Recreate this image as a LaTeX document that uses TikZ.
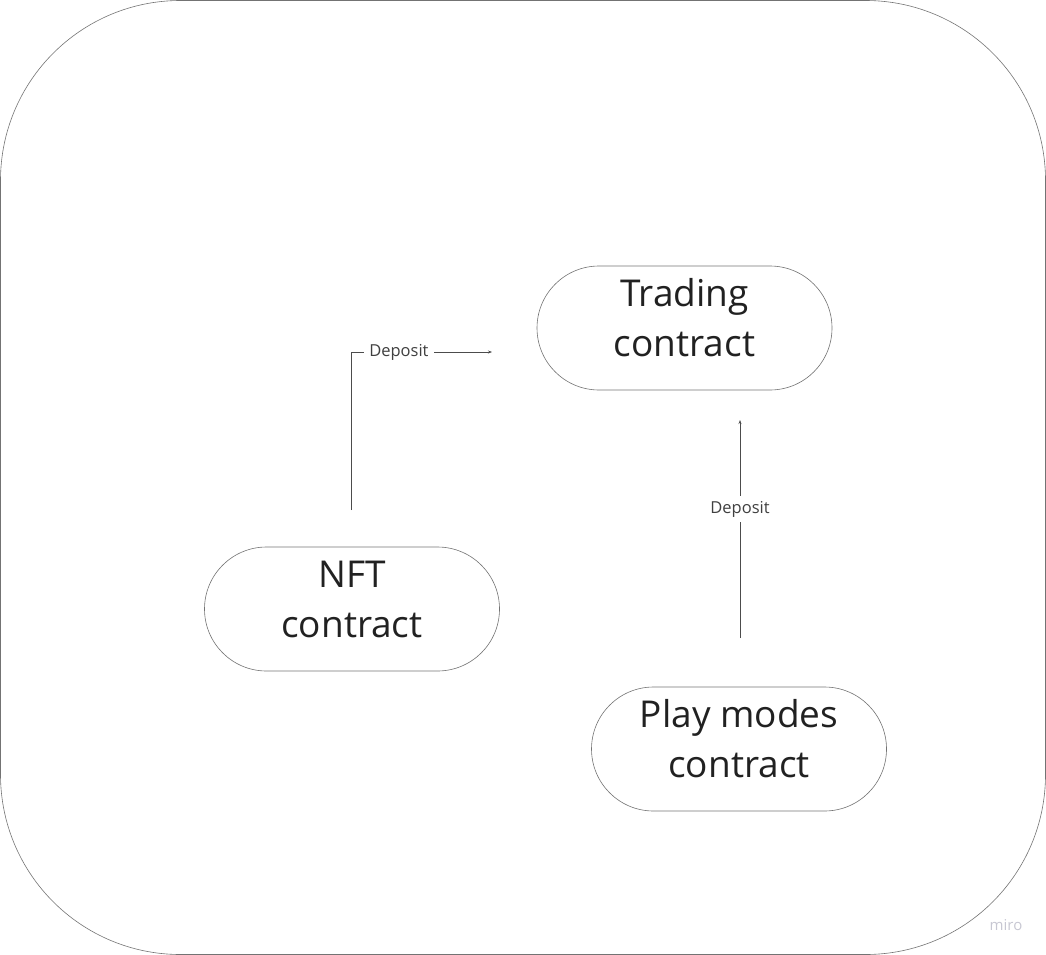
\documentclass[tikz,border=0pt]{standalone}
\usepackage{fontspec}
\setmainfont{Open Sans}
\usetikzlibrary{arrows.meta}
\begin{document}
\begin{tikzpicture}[x=1pt,y=-1pt,
  stadium/.style={draw=black!55, line width=0.6pt, rounded corners=62pt, minimum width=295pt, minimum height=124pt, inner sep=0pt},
  stxt/.style={align=center, font=\fontsize{37}{50}\selectfont, text=black!87, inner sep=0pt, yshift=10pt},
  conn/.style={draw=black!70, line width=0.6pt, -{Stealth[length=4pt,width=3pt]}},
  lbl/.style={fill=white, font=\fontsize{16.5}{19}\selectfont, text=black!75, inner sep=5pt}]
\useasboundingbox (0,0) rectangle (1046,955);
\draw[black!55, line width=0.6pt, rounded corners=180pt] (0.5,0.5) rectangle (1045.5,954.5);
\node[stadium] (trading) at (684.5,328) {};
\node[stxt] (tradingtxt) at (trading.center) {Trading\\contract};
\node[stadium] (nft) at (352,609) {};
\node[stxt] (nfttxt) at (nft.center) {NFT\\contract};
\node[stadium] (play) at (739,749) {};
\node[stxt] (playtxt) at (play.center) {Play modes\\contract};
\coordinate (a1) at (351,510);
\coordinate (a2) at (492,352);
\coordinate (b1) at (740,638);
\coordinate (b2) at (740,420);
\draw[conn] (a1) |- (a2) node[lbl, pos=0.67] (l1) {Deposit};
\draw[conn] (b1) -- (b2) node[lbl, pos=0.59] (l2) {Deposit};
\node[text=blue!20!black!22, font=\fontsize{15}{17}\selectfont] (miro) at (1006,925) {miro};
\end{tikzpicture}
\end{document}
